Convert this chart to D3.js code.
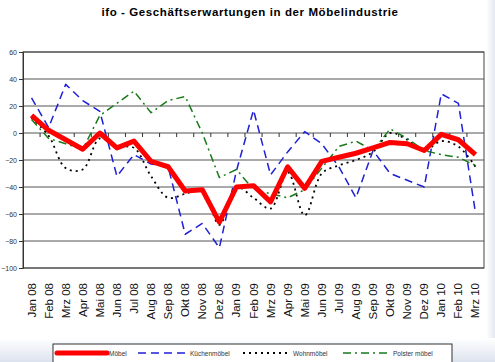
<!DOCTYPE html>
<html>
<head>
<meta charset="utf-8">
<script src="https://cdn.jsdelivr.net/npm/d3@7"></script>
<style>
  body { margin: 0; background: #fff; }
  svg { display: block; font-family: "Liberation Sans", Arial, sans-serif; }
</style>
</head>
<body>
<svg id="chart" width="495" height="362"></svg>
<script>
const months = ["Jan 08","Feb 08","Mrz 08","Apr 08","Mai 08","Jun 08","Jul 08","Aug 08","Sep 08","Okt 08","Nov 08","Dez 08",
  "Jan 09","Feb 09","Mrz 09","Apr 09","Mai 09","Jun 09","Jul 09","Aug 09","Sep 09","Okt 09","Nov 09","Dez 09",
  "Jan 10","Feb 10","Mrz 10"];

const moebel       = [13, 2, -5, -12, 0, -11, -6, -21, -25, -43, -42, -66, -40, -39, -51, -25, -41, -21, -18, -15, -11, -7, -8, -13, -1, -5, -16];
const kuechen      = [26, 4, 36, 24, 16, -32, -16, -23, -25, -75, -67, -85, -28, 17, -31, -14, 1, -8, -25, -48, -13, -30, -35, -40, 29, 22, -59];
const wohn         = [11, -2, -26, -27, -4, -10, -11, -32, -48, -45, -42, -68, -40, -48, -56, -29, -61, -30, -24, -20, -14, 0, -5, -13, -6, -10, -25];
const polster      = [10, -4, -8, -12, 13, 22, 31, 15, 24, 27, 0, -33, -27, -42, -45, -48, -42, -26, -10, -6, -13, 3, -4, -13, -16, -18, -24];

const yTicks = [60, 40, 20, 0, -20, -40, -60, -80, -100];

const series = [
  { name: "Möbel", values: moebel, color: "#ff0000", width: 5, dash: null, curve: d3.curveLinear },
  { name: "Küchenmöbel", values: kuechen, color: "#1f1fd6", width: 1.5, dash: "8,5", curve: d3.curveLinear },
  { name: "Wohnmöbel", values: wohn, color: "#000000", width: 1.8, dash: "2,4", curve: d3.curveCatmullRom },
  { name: "Polster möbel", values: polster, color: "#1a7a1a", width: 1.5, dash: "8,4,2,4", curve: d3.curveLinear }
];

const svg = d3.select("#chart");
const margin = { left: 23, right: 11, top: 52, bottom: 94 };
const W = 495, H = 362;
const innerW = W - margin.left - margin.right;
const innerH = H - margin.top - margin.bottom;

// slide background edges
const defs = svg.append("defs");
const gr = defs.append("linearGradient").attr("id", "rg").attr("x1", 0).attr("x2", 1).attr("y1", 0).attr("y2", 0);
gr.append("stop").attr("offset", 0).attr("stop-color", "#ffffff");
gr.append("stop").attr("offset", 1).attr("stop-color", "#e4e8f0");
const gb = defs.append("linearGradient").attr("id", "bg").attr("x1", 0).attr("x2", 0).attr("y1", 0).attr("y2", 1);
gb.append("stop").attr("offset", 0).attr("stop-color", "#ffffff");
gb.append("stop").attr("offset", 1).attr("stop-color", "#dde3ee");
svg.append("rect").attr("x", 486).attr("y", 0).attr("width", 9).attr("height", H).attr("fill", "url(#rg)");
svg.append("rect").attr("x", 0).attr("y", 338).attr("width", W).attr("height", 24).attr("fill", "url(#bg)");

svg.append("text")
  .attr("x", 250).attr("y", 16)
  .attr("text-anchor", "middle")
  .attr("font-size", 11.5).attr("font-weight", "bold")
  .attr("letter-spacing", 0.6)
  .text("ifo - Geschäftserwartungen in der Möbelindustrie");

const x = d3.scaleBand().domain(months).range([0, innerW]);
const y = d3.scaleLinear().domain([-100, 60]).range([innerH, 0]);

const g = svg.append("g").attr("transform", `translate(${margin.left},${margin.top})`);

// gridlines
g.append("g")
  .selectAll("line")
  .data(yTicks)
  .join("line")
  .attr("x1", 0).attr("x2", innerW)
  .attr("y1", d => y(d)).attr("y2", d => y(d))
  .attr("stroke", "#555").attr("stroke-width", 1);

// plot border
g.append("rect").attr("width", innerW).attr("height", innerH)
  .attr("fill", "none").attr("stroke", "#444").attr("stroke-width", 1);

// y axis
const yAxis = g.append("g")
  .call(d3.axisLeft(y).tickValues(yTicks).tickSize(4).tickPadding(2));
yAxis.select(".domain").attr("stroke", "#333");
yAxis.selectAll("line").attr("stroke", "#333");
yAxis.selectAll("text").attr("font-size", 7).attr("fill", "#333");

// category axis at zero with boundary ticks
g.append("g")
  .selectAll("line")
  .data(months.slice(1))
  .join("line")
  .attr("x1", d => x(d)).attr("x2", d => x(d))
  .attr("y1", y(0)).attr("y2", y(0) + 4)
  .attr("stroke", "#333");

// x labels at the bottom
g.append("g")
  .selectAll("text")
  .data(months)
  .join("text")
  .attr("transform", d => `translate(${x(d) + x.bandwidth() / 2 + 4},${innerH + 15}) rotate(-90)`)
  .attr("text-anchor", "end")
  .attr("font-size", 11.5)
  .attr("fill", "#111")
  .text(d => d);

// lines (red drawn last)
const order = [1, 2, 3, 0];
order.forEach(i => {
  const s = series[i];
  const line = d3.line()
    .x((d, j) => x(months[j]) + x.bandwidth() / 2)
    .y(d => y(d))
    .curve(s.curve);
  g.append("path")
    .datum(s.values)
    .attr("d", line)
    .attr("fill", "none")
    .attr("stroke", s.color)
    .attr("stroke-width", s.width)
    .attr("stroke-linejoin", "round")
    .attr("stroke-dasharray", s.dash);
});

// legend
const lg = svg.append("g").attr("transform", "translate(53,344)");
lg.append("rect").attr("width", 399).attr("height", 19)
  .attr("fill", "#fff").attr("stroke", "#333").attr("stroke-width", 1);
const legendX = [4, 85, 190, 290];
const legendLen = [50, 50, 48, 48];
series.forEach((s, i) => {
  lg.append("line")
    .attr("x1", legendX[i]).attr("x2", legendX[i] + legendLen[i])
    .attr("y1", 9).attr("y2", 9)
    .attr("stroke", s.color)
    .attr("stroke-width", i === 0 ? 5 : s.width)
    .attr("stroke-linecap", i === 0 ? "round" : "butt")
    .attr("stroke-dasharray", s.dash);
  lg.append("text")
    .attr("x", legendX[i] + legendLen[i] + 2).attr("y", 11.5)
    .attr("font-size", 6.5).attr("fill", "#333")
    .text(s.name);
});
</script>
</body>
</html>
